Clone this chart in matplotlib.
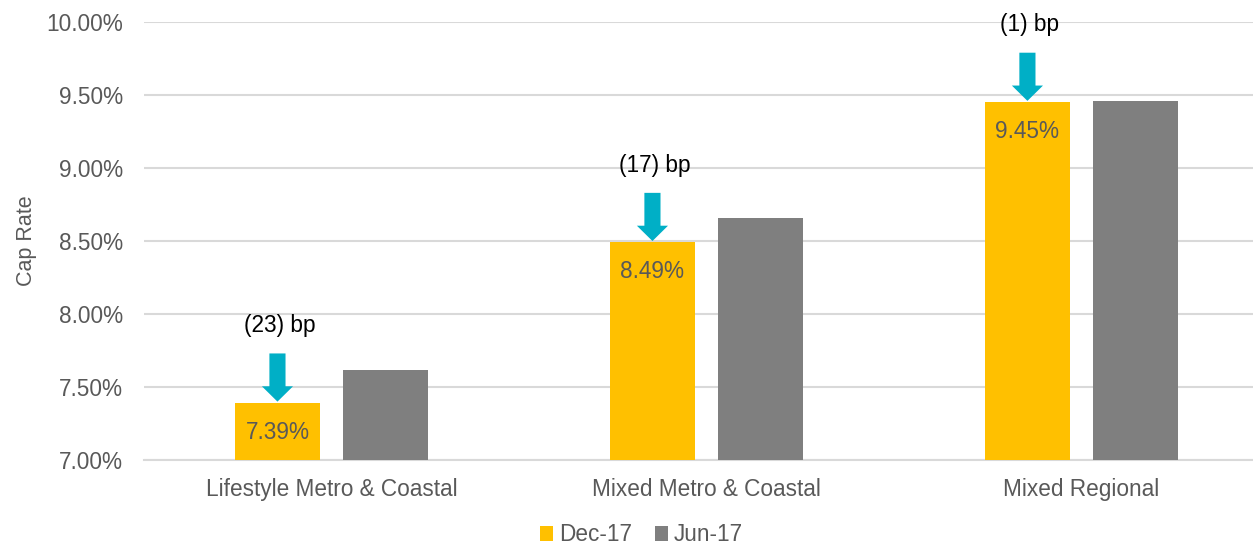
import matplotlib
matplotlib.use("Agg")
import matplotlib.pyplot as plt
import numpy as np

plt.rcParams['font.family'] = ['Liberation Sans', 'DejaVu Sans']

# Data
categories = ['Lifestyle Metro & Coastal', 'Mixed Metro & Coastal', 'Mixed Regional']
dec17 = [7.39, 8.49, 9.45]
jun17 = [7.62, 8.66, 9.46]
change_labels = ['(23) bp', '(17) bp', '(1) bp']
yticks = [7.0, 7.5, 8.0, 8.5, 9.0, 9.5, 10.0]

YELLOW = '#FFC000'
GREY = '#7F7F7F'
TEAL = '#00AFC6'
TXT = '#595959'

fig = plt.figure(figsize=(12.53, 5.47), dpi=100)
# right edge runs past the figure, as in the cropped original
ax = fig.add_axes([0.1149, 0.159, 0.8978, 0.8007])

x = np.arange(len(categories))
w = 0.227
off = 0.144

ax.bar(x - off, dec17, w, color=YELLOW, label='Dec-17', zorder=3)
ax.bar(x + off, jun17, w, color=GREY, label='Jun-17', zorder=3)

ax.set_ylim(7.0, 10.0)
ax.set_xlim(-0.5, 2.5)
ax.set_yticks(yticks)
ax.set_yticklabels([f'{t:.2f}%' for t in yticks])
ax.set_xticks(x)
ax.set_xticklabels(categories)
ax.tick_params(axis='both', length=0, labelsize=16.3, colors=TXT)
ax.tick_params(axis='y', pad=15)
ax.tick_params(axis='x', pad=13)
ax.grid(axis='y', color='#D9D9D9', linewidth=1.5, zorder=0)
ax.set_axisbelow(True)
for s in ['top', 'right', 'left']:
    ax.spines[s].set_visible(False)
ax.spines['bottom'].set_color('#D9D9D9')
ax.spines['bottom'].set_linewidth(1.5)
ax.set_ylabel('Cap Rate', fontsize=15.5, color=TXT, labelpad=7)

# value labels, arrows and bp change notes on the Dec-17 bars
for xi, v, lab in zip(x - off, dec17, change_labels):
    ax.text(xi, v - 0.2, f'{v:.2f}%', ha='center', va='center',
            fontsize=16.3, color=TXT, zorder=4)
    top = v + 0.34
    ax.arrow(xi, top, 0, -0.33, width=0.043, head_width=0.083,
             head_length=0.105, length_includes_head=True,
             color=TEAL, linewidth=0, zorder=5, clip_on=False)
    ax.text(xi + 0.005, top + 0.19, lab, ha='center', va='center',
            fontsize=16.3, color='black', zorder=5)

fig.legend(loc='lower center', bbox_to_anchor=(0.512, -0.036), ncol=2,
           frameon=False, fontsize=16.3, handlelength=0.6, handleheight=0.6,
           handletextpad=0.25, columnspacing=1.0, labelcolor=TXT)

fig.savefig('out.png', dpi=100)
